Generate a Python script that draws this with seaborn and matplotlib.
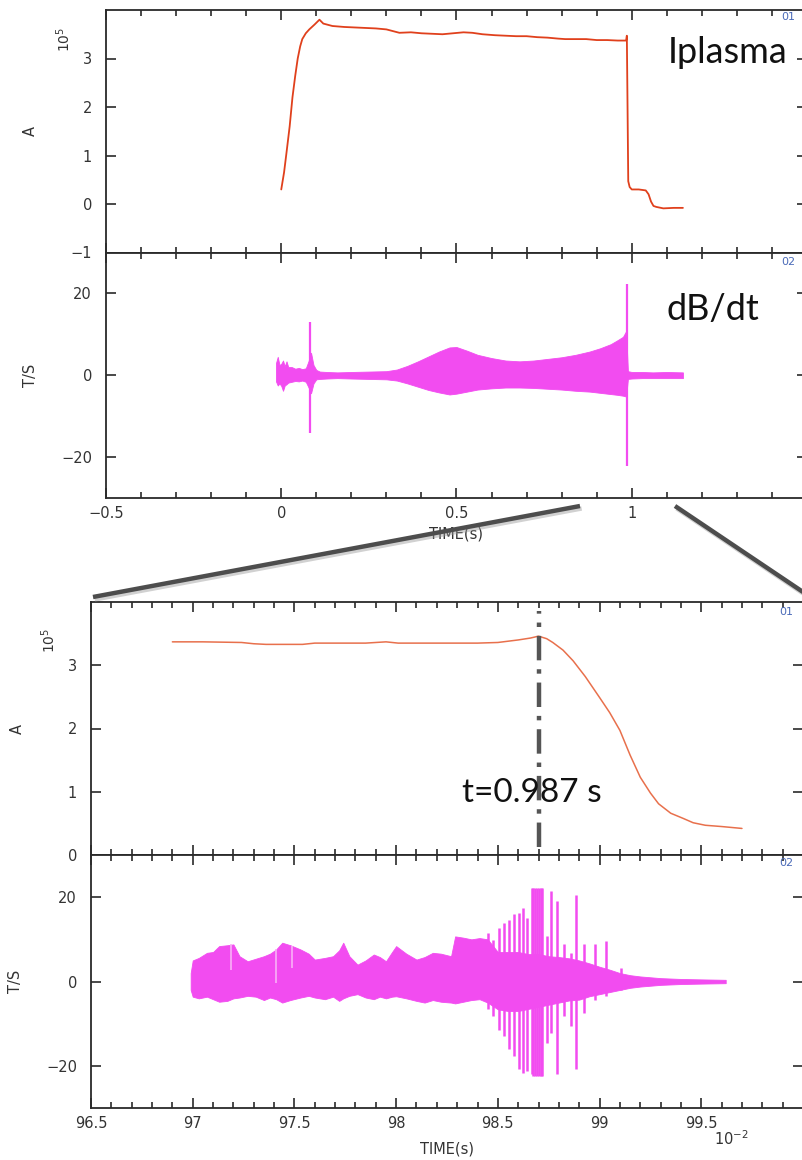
import numpy as np
import pandas as pd
import seaborn as sns
import matplotlib
matplotlib.use("Agg")
import matplotlib.pyplot as plt
from matplotlib.lines import Line2D
from matplotlib.ticker import MultipleLocator, FixedLocator, FuncFormatter
import matplotlib.patheffects as pe

# ---------------- data ----------------
# Panel 1: plasma current (x1e5 A) over the whole shot
ip_t = [0.0, 0.008, 0.015, 0.024, 0.032, 0.040, 0.047, 0.054, 0.060, 0.070, 0.080,
        0.095, 0.109, 0.120, 0.146, 0.180, 0.210, 0.240, 0.270, 0.300, 0.337, 0.370,
        0.400, 0.430, 0.460, 0.490, 0.520, 0.545, 0.574, 0.610, 0.640, 0.670, 0.700,
        0.730, 0.760, 0.790, 0.810, 0.840, 0.870, 0.900, 0.930, 0.960, 0.984, 0.986,
        0.988, 0.990, 0.994, 1.000, 1.020, 1.040, 1.048, 1.055, 1.062, 1.070, 1.090,
        1.120, 1.146]
ip_v = [0.30, 0.65, 1.06, 1.60, 2.20, 2.65, 3.00, 3.25, 3.40, 3.52, 3.60,
        3.70, 3.80, 3.72, 3.67, 3.65, 3.64, 3.63, 3.62, 3.60, 3.53, 3.54,
        3.52, 3.51, 3.50, 3.52, 3.54, 3.53, 3.50, 3.48, 3.47, 3.46, 3.46,
        3.44, 3.43, 3.41, 3.40, 3.40, 3.40, 3.38, 3.38, 3.37, 3.37, 3.47,
        2.00, 0.47, 0.35, 0.30, 0.30, 0.28, 0.20, 0.05, -0.04, -0.06, -0.09,
        -0.08, -0.08]

# Panel 2: dB/dt envelope (T/s) over the whole shot
db1_t = [-0.015, -0.010, -0.005, 0.000, 0.005, 0.010, 0.015, 0.020, 0.030, 0.040,
         0.050, 0.060, 0.070, 0.078, 0.085, 0.092, 0.100, 0.110, 0.130, 0.160,
         0.200, 0.250, 0.300, 0.330, 0.360, 0.390, 0.420, 0.450, 0.480, 0.500,
         0.530, 0.560, 0.600, 0.640, 0.680, 0.720, 0.760, 0.800, 0.840, 0.880,
         0.910, 0.940, 0.960, 0.975, 0.984, 0.989, 1.000, 1.030, 1.060, 1.100, 1.146]
db1_up = [3.0, 4.5, 2.5, 2.8, 3.6, 2.2, 3.4, 2.0, 2.0, 1.6,
          1.8, 1.5, 1.7, 3.5, 5.5, 2.5, 1.3, 0.9, 0.8, 0.7,
          0.8, 0.9, 1.0, 1.4, 2.3, 3.4, 4.6, 5.8, 6.8, 6.9,
          6.0, 5.0, 4.2, 3.6, 3.4, 3.6, 4.0, 4.4, 5.0, 5.8,
          6.6, 7.6, 8.6, 9.4, 10.8, 1.0, 0.8, 0.8, 0.7, 0.8, 0.7]
db1_lo = [-1.5, -2.5, -2.0, -2.6, -3.8, -2.5, -2.2, -1.8, -1.6, -1.4,
          -1.5, -1.3, -1.6, -3.0, -4.4, -2.0, -1.0, -0.9, -0.8, -0.7,
          -0.8, -0.9, -1.0, -1.3, -2.0, -2.8, -3.6, -4.2, -4.7, -4.5,
          -4.0, -3.5, -3.2, -3.0, -3.0, -3.1, -3.3, -3.5, -3.8, -4.0,
          -4.3, -4.6, -4.8, -5.0, -5.2, -0.9, -0.8, -0.7, -0.7, -0.7, -0.7]
spk1_t = [0.083, 0.986]
spk1_top = [13.0, 22.3]
spk1_bot = [-14.0, -22.2]

# Panel 3: plasma current around the disruption (time in 1e-2 s)
ip3_t = [96.90, 97.05, 97.24, 97.30, 97.36, 97.54, 97.60, 97.85, 97.95, 98.01,
         98.20, 98.40, 98.50, 98.60, 98.66, 98.70, 98.74, 98.77, 98.82, 98.87,
         98.93, 99.00, 99.05, 99.10, 99.15, 99.20, 99.25, 99.29, 99.35, 99.41,
         99.46, 99.52, 99.60, 99.70]
ip3_v = [3.37, 3.37, 3.36, 3.34, 3.33, 3.33, 3.35, 3.35, 3.37, 3.35,
         3.35, 3.35, 3.36, 3.40, 3.43, 3.46, 3.42, 3.36, 3.24, 3.07,
         2.82, 2.49, 2.25, 1.97, 1.58, 1.23, 0.98, 0.81, 0.66, 0.58,
         0.51, 0.47, 0.45, 0.42]

# Panel 4: dB/dt around the disruption
db4_t = [96.99, 97.00, 97.03, 97.07, 97.10, 97.13, 97.17, 97.20, 97.23, 97.27,
         97.31, 97.35, 97.38, 97.41, 97.44, 97.48, 97.53, 97.57, 97.60, 97.65,
         97.69, 97.72, 97.74, 97.77, 97.81, 97.85, 97.89, 97.92, 97.95, 97.98,
         98.00, 98.05, 98.10, 98.14, 98.18, 98.22, 98.27, 98.29, 98.33, 98.37,
         98.41, 98.45, 98.50, 98.55, 98.60, 98.65, 98.70, 98.75, 98.80, 98.85,
         98.90, 98.95, 99.00, 99.05, 99.10, 99.15, 99.20, 99.30, 99.40, 99.50, 99.62]
db4_up = [2.0, 5.0, 5.6, 6.8, 7.0, 8.4, 8.6, 8.8, 6.0, 4.8,
          5.4, 6.0, 6.6, 7.6, 9.2, 8.6, 7.6, 6.6, 5.2, 5.6,
          6.0, 7.4, 9.2, 6.0, 4.0, 5.0, 6.4, 5.8, 4.8, 7.0,
          8.4, 6.6, 5.2, 5.8, 6.8, 6.6, 6.0, 10.7, 10.4, 10.0,
          10.3, 10.0, 7.0, 7.0, 7.0, 6.5, 6.5, 6.0, 5.8, 5.5,
          5.0, 4.3, 3.5, 2.8, 2.0, 1.5, 1.2, 0.8, 0.6, 0.5, 0.4]
db4_lo = [-2.0, -3.6, -4.0, -3.6, -4.2, -4.8, -4.6, -4.0, -3.8, -3.4,
          -3.6, -4.4, -3.8, -4.2, -5.0, -4.4, -3.8, -3.4, -3.8, -4.2,
          -3.6, -4.6, -4.0, -3.4, -3.0, -3.8, -4.2, -3.6, -4.0, -3.6,
          -3.5, -4.0, -4.6, -5.0, -4.4, -4.8, -5.0, -5.2, -4.8, -4.4,
          -4.2, -5.0, -6.6, -7.0, -7.0, -6.5, -6.0, -5.5, -5.0, -4.5,
          -4.3, -3.5, -3.0, -2.5, -2.0, -1.5, -1.2, -0.8, -0.6, -0.5, -0.4]
spk4_t = [98.453, 98.478, 98.506, 98.531, 98.555, 98.580, 98.604, 98.624, 98.645,
          98.667, 98.675, 98.683, 98.693, 98.703, 98.711, 98.719, 98.744, 98.760,
          98.793, 98.826, 98.859, 98.883, 98.924, 98.977, 99.031, 99.105]
spk4_top = [11.5, 9.9, 12.7, 13.9, 14.7, 15.9, 16.3, 17.4, 15.1,
            22.2, 22.2, 22.2, 22.2, 22.2, 22.2, 22.2, 10.7, 21.4,
            19.0, 8.8, 6.8, 20.6, 8.8, 8.8, 9.6, 3.2]
spk4_bot = [-6.6, -8.2, -11.4, -12.9, -16.1, -17.7, -20.8, -21.6, -21.2,
            -22.0, -22.4, -22.4, -22.4, -22.4, -22.4, -22.4, -14.5, -12.2,
            -22.0, -8.2, -10.6, -20.8, -7.4, -4.3, -3.5, -1.9]
gap4_t = [97.19, 97.41, 97.49]
gap4_top = [8.8, 7.6, 8.4]
gap4_bot = [2.8, -0.3, 3.3]

disrupt_t = 98.7

# ---------------- style ----------------
sns.set_theme(style="ticks")
plt.rcParams['font.family'] = ['DejaVu Sans']
TXT = '#333333'
RED = '#e0401c'
RED3 = '#e8704c'
MAG = '#f24cf0'

W, H = 803, 1160
fig = plt.figure(figsize=(W / 100, H / 100), dpi=100)
fig.patch.set_facecolor('white')

def px_axes(l, t, r, b):
    return fig.add_axes([l / W, 1 - b / H, (r - l) / W, (b - t) / H])

ax1 = px_axes(106, 10, 807, 252.5)
ax2 = px_axes(106, 252.5, 807, 498)
ax3 = px_axes(91, 602, 803, 855)
ax4 = px_axes(91, 855, 803, 1108)

def style(ax, xmaj, xmin, show_xlabels):
    for s in ax.spines.values():
        s.set_color('#2a2a2a')
        s.set_linewidth(1.3)
    ax.set_facecolor('white')
    ax.xaxis.set_major_locator(FixedLocator(xmaj))
    ax.xaxis.set_minor_locator(MultipleLocator(xmin))
    ax.tick_params(axis='both', which='both', direction='in', top=True, right=True,
                   color='#2a2a2a', width=1.2, labelsize=10.5, labelcolor=TXT)
    ax.tick_params(axis='both', which='major', length=7)
    ax.tick_params(axis='x', which='minor', length=4.5)
    ax.tick_params(axis='x', which='major', pad=6)
    ax.tick_params(axis='y', which='major', pad=10)
    ax.tick_params(axis='y', which='minor', left=False, right=False)
    ax.xaxis.set_major_formatter(FuncFormatter(lambda v, p: f'{v:g}'.replace('-', '\u2212')))
    ax.yaxis.set_major_formatter(FuncFormatter(lambda v, p: f'{v:g}'.replace('-', '\u2212')))
    if not show_xlabels:
        ax.tick_params(axis='x', labelbottom=False)

# ---- panel 1 ----
sns.lineplot(x=ip_t, y=ip_v, ax=ax1, color=RED, lw=1.3, estimator=None, sort=False)
ax1.set_xlim(-0.5, 1.5)
ax1.set_ylim(-1, 4)
ax1.set_yticks([-1, 0, 1, 2, 3])
style(ax1, [-0.5, 0, 0.5, 1, 1.5], 0.1, False)
ax1.set_ylabel('A', fontsize=10.5, color=TXT)
ax1.yaxis.set_label_coords(-0.097, 0.5)
ax1.text(-0.06, 0.88, '10$^5$', transform=ax1.transAxes, rotation=90,
         ha='center', va='center', fontsize=10, color=TXT)

# ---- panel 2 ----
ax2.fill_between(db1_t, db1_lo, db1_up, color=MAG, lw=0.6, edgecolor=MAG)
ax2.vlines(spk1_t, spk1_bot, spk1_top, color=MAG, lw=1.6)
ax2.set_xlim(-0.5, 1.5)
ax2.set_ylim(-30, 30)
ax2.set_yticks([-20, 0, 20])
style(ax2, [-0.5, 0, 0.5, 1], 0.1, True)
ax2.xaxis.set_ticks([-0.5, 0, 0.5, 1, 1.5])
ax2.set_xticklabels(['\u22120.5', '0', '0.5', '1', ''])
ax2.set_ylabel('T/S', fontsize=10.5, color=TXT)
ax2.yaxis.set_label_coords(-0.097, 0.5)
ax2.set_xlabel('TIME(s)', fontsize=10.5, color=TXT, labelpad=4)

# ---- panel 3 ----
sns.lineplot(x=ip3_t, y=ip3_v, ax=ax3, color=RED3, lw=1.1, estimator=None, sort=False)
ax3.set_xlim(96.5, 100)
ax3.set_ylim(0, 4)
ax3.set_yticks([0, 1, 2, 3])
style(ax3, [96.5, 97, 97.5, 98, 98.5, 99, 99.5, 100], 0.1, False)
ax3.set_ylabel('A', fontsize=10.5, color=TXT)
ax3.yaxis.set_label_coords(-0.093, 0.5)
ax3.text(-0.059, 0.85, '10$^5$', transform=ax3.transAxes, rotation=90,
         ha='center', va='center', fontsize=10, color=TXT)
ax3.axvline(disrupt_t, ymin=0.03, ymax=0.965, color='#555555', lw=3.2,
            linestyle=(0, (5.5, 2, 1, 2)), zorder=5)

# ---- panel 4 ----
ax4.fill_between(db4_t, db4_lo, db4_up, color=MAG, lw=0.6, edgecolor=MAG)
ax4.vlines(spk4_t, spk4_bot, spk4_top, color=MAG, lw=1.8)
ax4.vlines(gap4_t, gap4_bot, gap4_top, color='#f9b0f7', lw=1.2)
ax4.set_xlim(96.5, 100)
ax4.set_ylim(-30, 30)
ax4.set_yticks([-20, 0, 20])
style(ax4, [96.5, 97, 97.5, 98, 98.5, 99, 99.5], 0.1, True)
ax4.set_ylabel('T/S', fontsize=10.5, color=TXT)
ax4.yaxis.set_label_coords(-0.096, 0.5)
ax4.set_xlabel('TIME(s)', fontsize=10.5, color=TXT, labelpad=7)
ax4.text(0.9, -0.12, '10$^{-2}$', transform=ax4.transAxes, ha='center', va='center',
         fontsize=10.5, color=TXT)

# panel tags
for ax, tag, xf, yf in [(ax1, '01', 0.973, 0.972), (ax2, '02', 0.973, 0.963),
                        (ax3, '01', 0.977, 0.96), (ax4, '02', 0.977, 0.968)]:
    ax.text(xf, yf, tag, transform=ax.transAxes, ha='center', va='center',
            fontsize=8, color='#4a6ab8')

# big annotations
big = ['Lato', 'DejaVu Sans']
fig.text(668 / W, 1 - 63 / H, 'Iplasma', family=big, fontsize=26, color='#111111',
         va='baseline', ha='left')
fig.text(667 / W, 1 - 320 / H, 'dB/dt', family=big, fontsize=26, color='#111111',
         va='baseline', ha='left')
fig.text(462 / W, 1 - 802 / H, 't=0.987 s', family=big, fontsize=24, color='#111111',
         va='baseline', ha='left', zorder=10)

# zoom connector lines
shadow = [pe.SimpleLineShadow(offset=(1.2, -1.8), shadow_color='#999999', alpha=0.45),
          pe.Normal()]
for (x0, y0), (x1, y1) in [((580, 506), (93, 597)), ((675, 506), (806, 594))]:
    ln = Line2D([x0 / W, x1 / W], [1 - y0 / H, 1 - y1 / H], transform=fig.transFigure,
                color='#4d4d4d', lw=3.2, solid_capstyle='butt', path_effects=shadow)
    fig.add_artist(ln)

fig.savefig('out.png', dpi=100, facecolor='white')
